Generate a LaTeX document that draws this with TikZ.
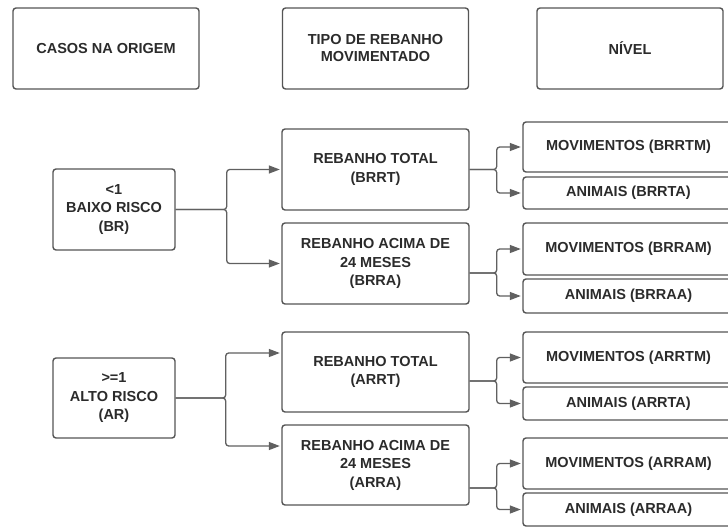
\documentclass[tikz,border=0pt]{standalone}
\usepackage{fontspec}
\setmainfont{Liberation Sans}
\usetikzlibrary{arrows.meta, positioning}
\definecolor{boxline}{HTML}{555555}
\definecolor{wire}{HTML}{606060}
\definecolor{ink}{HTML}{2B2B2B}

\begin{document}
\begin{tikzpicture}[
  x=1pt, y=-1pt,
  box/.style={draw=boxline, line width=1.4pt, rounded corners=3pt, fill=white,
              align=center, text=ink, inner sep=0pt,
              font=\bfseries\fontsize{14.5}{18.5}\selectfont},
  head/.style={box, minimum width=186pt, minimum height=81pt,
               font=\bfseries\fontsize{14.5}{17}\selectfont},
  risk/.style={box, minimum width=122pt, minimum height=81pt},
  herd/.style={box, minimum width=187pt, minimum height=80pt},
  level/.style={box, minimum width=211pt},
  link/.style={draw=wire, line width=1.3pt, rounded corners=3pt,
               -{Triangle[length=11pt, width=8pt]}, shorten >=1.5pt}
]
  \useasboundingbox (0,0) rectangle (728,527);
  \fill[white] (0,0) rectangle (728,527);

  \node[head] (casos) at (106,48.5)   {CASOS NA ORIGEM};
  \node[head] (tipo)  at (375.5,48.5) {TIPO DE REBANHO\\MOVIMENTADO};
  \node[head] (nivel) at (630,48.5)   {NÍVEL};

  \node[risk] (br) at (114,209.5) {<1\\BAIXO RISCO\\(BR)};
  \node[risk, minimum height=80pt] (ar) at (114,398) {>=1\\ALTO RISCO\\(AR)};

  \node[herd, minimum height=81pt] (brrt) at (375.5,169.5) {REBANHO TOTAL\\(BRRT)};
  \node[herd, minimum height=81pt] (brra) at (375.5,263.5) {REBANHO ACIMA DE\\24 MESES\\(BRRA)};
  \node[herd] (arrt) at (375.5,372) {REBANHO TOTAL\\(ARRT)};
  \node[herd] (arra) at (375.5,465) {REBANHO ACIMA DE\\24 MESES\\(ARRA)};

  \node[level, minimum height=50pt] (brrtm) at (628.5,147)   {MOVIMENTOS (BRRTM)};
  \node[level, minimum height=32pt] (brrta) at (628.5,193)   {ANIMAIS (BRRTA)};
  \node[level, minimum height=52pt] (brram) at (628.5,249)   {MOVIMENTOS (BRRAM)};
  \node[level, minimum height=34pt] (brraa) at (628.5,296)   {ANIMAIS (BRRAA)};
  \node[level, minimum height=51pt] (arrtm) at (628.5,357.5) {MOVIMENTOS (ARRTM)};
  \node[level, minimum height=33pt] (arrta) at (628.5,403.5) {ANIMAIS (ARRTA)};
  \node[level, minimum height=51pt] (arram) at (628.5,463.5) {MOVIMENTOS (ARRAM)};
  \node[level, minimum height=33pt] (arraa) at (628.5,509.5) {ANIMAIS (ARRAA)};

  \draw[link] (br.east) -- ++(51,0) |- (brrt.west);
  \draw[link] (br.east) -- ++(51,0) |- (brra.west);
  \draw[link] (ar.east) -- ++(50,0) |- ([yshift=19pt]arrt.west);
  \draw[link] (ar.east) -- ++(50,0) |- ([yshift=19pt]arra.west);

  \draw[link] (brrt.east) -- ++(27,0) |- (brrtm.west);
  \draw[link] (brrt.east) -- ++(27,0) |- (brrta.west);
  \draw[link] ([yshift=-9.5pt]brra.east) -- ++(27,0) |- (brram.west);
  \draw[link] ([yshift=-9.5pt]brra.east) -- ++(27,0) |- (brraa.west);
  \draw[link] ([yshift=-9pt]arrt.east) -- ++(27,0) |- (arrtm.west);
  \draw[link] ([yshift=-9pt]arrt.east) -- ++(27,0) |- (arrta.west);
  \draw[link] ([yshift=-23pt]arra.east) -- ++(27,0) |- (arram.west);
  \draw[link] ([yshift=-23pt]arra.east) -- ++(27,0) |- (arraa.west);
\end{tikzpicture}
\end{document}
